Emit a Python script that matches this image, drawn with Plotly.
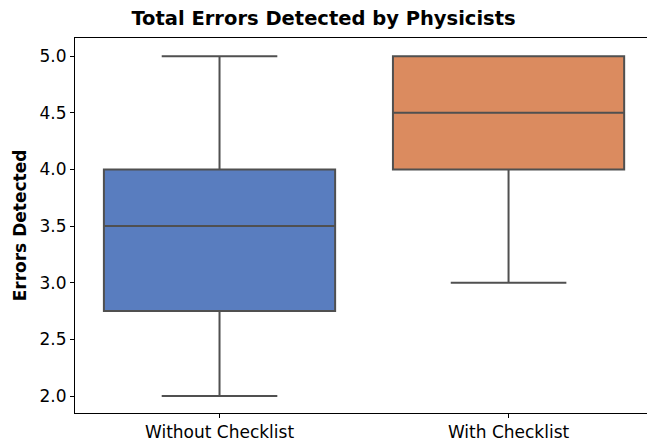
import plotly.graph_objects as go

categories = ["Without Checklist", "With Checklist"]
q1 = [2.75, 4.0]
median = [3.5, 4.5]
q3 = [4.0, 5.0]
lower_fence = [2.0, 3.0]
upper_fence = [5.0, 5.0]
fill_colors = ["#597dbf", "#db8b5f"]
y_ticks = [2.0, 2.5, 3.0, 3.5, 4.0, 4.5, 5.0]

fig = go.Figure()
for i, cat in enumerate(categories):
    fig.add_trace(go.Box(
        x=[cat], q1=[q1[i]], median=[median[i]], q3=[q3[i]],
        lowerfence=[lower_fence[i]], upperfence=[upper_fence[i]],
        fillcolor=fill_colors[i],
        line=dict(color="#505050", width=2),
        width=0.8, whiskerwidth=0.5, boxpoints=False,
        showlegend=False, hoverinfo="skip",
    ))

fig.update_layout(
    width=647, height=441,
    margin=dict(l=75, r=0, t=38, b=28),
    paper_bgcolor="white", plot_bgcolor="white",
    boxmode="overlay",
    font=dict(family="DejaVu Sans", size=17, color="black"),
    title=dict(text="<b>Total Errors Detected by Physicists</b>",
               x=0.5, xanchor="center", xref="container", y=1 - 18 / 441, yanchor="middle",
               font=dict(size=19.5, color="black")),
)
fig.update_xaxes(
    type="category", range=[-0.5, 1.479],
    showline=True, linecolor="black", linewidth=1, mirror=True,
    ticks="outside", ticklen=4, tickcolor="black",
    showgrid=False, zeroline=False,
)
fig.update_yaxes(
    range=[1.85, 5.16], tickvals=y_ticks,
    tickformat=".1f",
    showline=True, linecolor="black", linewidth=1,
    ticks="outside", ticklen=4, tickcolor="black",
    showgrid=False, zeroline=False,
    title=dict(text="<b>Errors Detected</b>", standoff=8, font=dict(size=17)),
)

fig.write_html(
    "out.html",
    config={"displayModeBar": False, "staticPlot": True},
    post_script="document.body.style.margin='0px';document.body.style.overflow='hidden';"
                "document.documentElement.style.overflow='hidden';",
)
